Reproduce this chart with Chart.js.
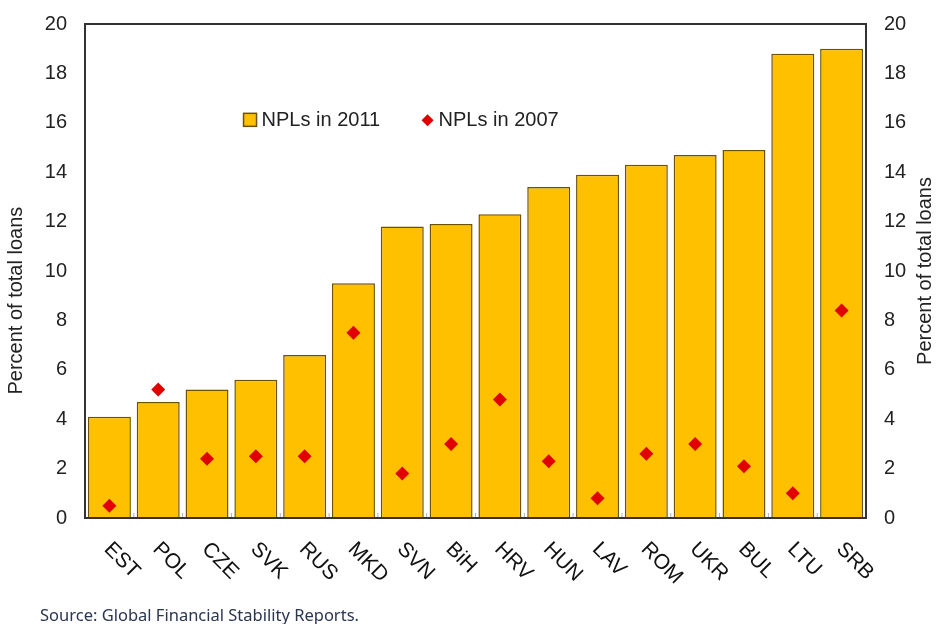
<!DOCTYPE html>
<html>
<head>
<meta charset="utf-8">
<script src="https://cdn.jsdelivr.net/npm/chart.js@4.4.0/dist/chart.umd.min.js"></script>
<style>
  html, body { margin: 0; padding: 0; background: #ffffff; }
  #wrap { width: 936px; height: 624px; position: relative; }
</style>
</head>
<body>
<div id="wrap"><canvas id="graficoNPL" width="936" height="624"></canvas></div>
<script>
// paises, em ordem crescente de NPLs em 2011
const paises = ['EST', 'POL', 'CZE', 'SVK', 'RUS', 'MKD', 'SVN', 'BiH', 'HRV', 'HUN', 'LAV', 'ROM', 'UKR', 'BUL', 'LTU', 'SRB']
const npls2011 = [4.1, 4.7, 5.2, 5.6, 6.6, 9.5, 11.8, 11.9, 12.3, 13.4, 13.9, 14.3, 14.7, 14.9, 18.8, 19.0]
const npls2007 = [0.5, 5.2, 2.4, 2.5, 2.5, 7.5, 1.8, 3.0, 4.8, 2.3, 0.8, 2.6, 3.0, 2.1, 1.0, 8.4]
const ticksY = [0, 2, 4, 6, 8, 10, 12, 14, 16, 18, 20]
const tituloEixo = 'Percent of total loans'
const fonte = 'Source: Global Financial Stability Reports.'

const corBarra = '#FFC000'
const corBordaBarra = '#6e5200'
const corLosango = '#E00000'
const corTexto = '#222222'
const familia = "'Liberation Sans', Arial, sans-serif"

// moldura, titulos dos eixos, rotulos do eixo x, legenda e fonte
const extras = {
    id: 'extras',
    afterDatasetsDraw(chart) {
        const ctx = chart.ctx
        const a = chart.chartArea
        const x = chart.scales.x
        const alt = a.bottom - a.top
        ctx.save()

        // pequenos tracos entre as barras
        ctx.strokeStyle = '#b0b0b0'
        ctx.lineWidth = 1
        for (let i = 1; i < paises.length; i++) {
            let px = (x.getPixelForTick(i - 1) + x.getPixelForTick(i)) / 2
            ctx.beginPath()
            ctx.moveTo(px, a.bottom)
            ctx.lineTo(px, a.bottom - 5)
            ctx.stroke()
        }

        ctx.strokeStyle = '#333333'
        ctx.lineWidth = 2
        ctx.strokeRect(a.left, a.top, a.right - a.left, alt)

        // titulos dos eixos, ambos lidos de baixo para cima
        ctx.fillStyle = corTexto
        ctx.font = `20px ${familia}`
        ctx.textAlign = 'center'
        ctx.textBaseline = 'middle'
        ;[[16, a.top + 0.56 * alt], [925, a.top + 0.5 * alt]].forEach(([tx, ty]) => {
            ctx.save()
            ctx.translate(tx, ty)
            ctx.rotate(-Math.PI / 2)
            ctx.fillText(tituloEixo, 0, 0)
            ctx.restore()
        })

        // rotulos inclinados
        ctx.fillStyle = '#111111'
        ctx.font = `21px ${familia}`
        ctx.textAlign = 'left'
        ctx.textBaseline = 'middle'
        paises.forEach((p, i) => {
            ctx.save()
            ctx.translate(x.getPixelForTick(i) - 2, a.bottom + 28)
            ctx.rotate(Math.PI / 4)
            ctx.fillText(p, 0, 0)
            ctx.restore()
        })

        // legenda
        let ly = a.top + 0.195 * alt
        let lx = a.left + 0.203 * (a.right - a.left)
        ctx.fillStyle = corBarra
        ctx.strokeStyle = corBordaBarra
        ctx.lineWidth = 1.5
        ctx.fillRect(lx, ly - 7, 13, 13)
        ctx.strokeRect(lx, ly - 7, 13, 13)
        ctx.fillStyle = corTexto
        ctx.font = `20px ${familia}`
        ctx.fillText('NPLs in 2011', lx + 18, ly)
        let dx = lx + 184
        ctx.fillStyle = corLosango
        ctx.beginPath()
        ctx.moveTo(dx, ly - 6)
        ctx.lineTo(dx + 6, ly)
        ctx.lineTo(dx, ly + 6)
        ctx.lineTo(dx - 6, ly)
        ctx.closePath()
        ctx.fill()
        ctx.fillStyle = corTexto
        ctx.fillText('NPLs in 2007', dx + 11, ly)

        // fonte
        ctx.fillStyle = '#2a3550'
        ctx.font = `16.5px 'Noto Sans', sans-serif`
        ctx.textBaseline = 'alphabetic'
        ctx.fillText(fonte, 40, 621)
        ctx.restore()
    }
}

const opcoesEixoY = (lado) => ({
    type: 'linear',
    position: lado,
    min: 0,
    max: 20,
    afterBuildTicks: (s) => { s.ticks = ticksY.map(v => ({ value: v })) },
    afterFit: (s) => {
        s.width = lado == 'left' ? 85 : 70
        s.paddingTop = 0
        s.paddingBottom = 0
    },
    grid: { display: false, drawTicks: false },
    border: { display: false },
    ticks: {
        padding: 18,
        color: corTexto,
        font: { family: familia, size: 20 }
    },
    title: { display: false }
})

new Chart(document.getElementById('graficoNPL'), {
    data: {
        labels: paises,
        datasets: [
            {
                type: 'line',
                label: 'NPLs in 2007',
                data: npls2007,
                showLine: false,
                pointStyle: 'rectRot',
                pointRadius: 7,
                pointHoverRadius: 7,
                pointBackgroundColor: corLosango,
                pointBorderWidth: 0,
                yAxisID: 'y',
                order: 1
            },
            {
                type: 'bar',
                label: 'NPLs in 2011',
                data: npls2011,
                backgroundColor: corBarra,
                borderColor: corBordaBarra,
                borderWidth: 1.5,
                categoryPercentage: 1,
                barPercentage: 0.88,
                yAxisID: 'y',
                order: 2
            }
        ]
    },
    options: {
        responsive: false,
        animation: false,
        layout: { padding: { left: 0, right: 0, top: 24, bottom: 0 } },
        plugins: {
            legend: { display: false },
            tooltip: { enabled: false }
        },
        scales: {
            x: {
                type: 'category',
                grid: { display: false, drawTicks: false },
                border: { display: false },
                ticks: { display: false },
                afterFit: (s) => { s.height = 106 }
            },
            y: opcoesEixoY('left'),
            y2: opcoesEixoY('right')
        }
    },
    plugins: [extras]
})
</script>
</body>
</html>
